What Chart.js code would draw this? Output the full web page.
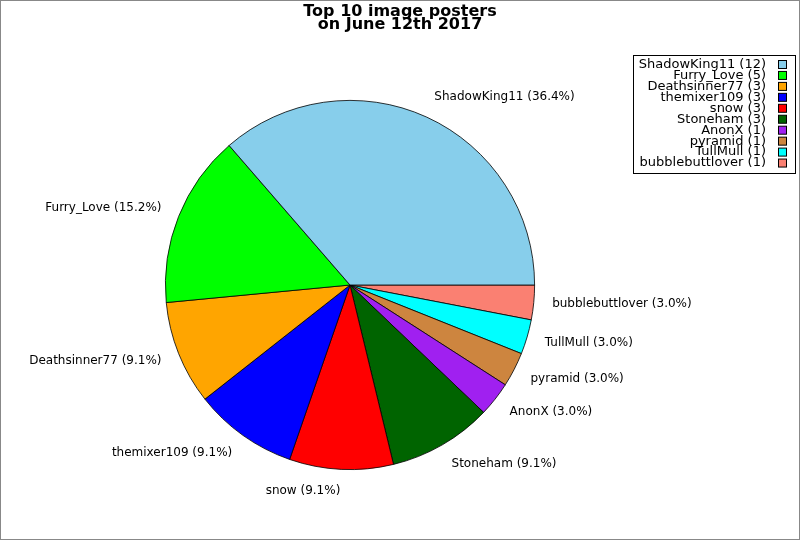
<!DOCTYPE html>
<html>
<head>
<meta charset="utf-8">
<script src="https://cdn.jsdelivr.net/npm/chart.js@4.4.0/dist/chart.umd.min.js"></script>
<style>
  html, body { margin: 0; padding: 0; background: #ffffff; }
  #wrap { width: 800px; height: 540px; }
</style>
</head>
<body>
<div id="wrap"><canvas id="grafico" width="800" height="540"></canvas></div>
<script>
// Datos del gráfico (orden de la leyenda)
const posters = ['ShadowKing11', 'Furry_Love', 'Deathsinner77', 'themixer109', 'snow',
  'Stoneham', 'AnonX', 'pyramid', 'TullMull', 'bubblebuttlover'];
const imageCounts = [12, 5, 3, 3, 3, 3, 1, 1, 1, 1];
const sliceColors = ['#87ceeb', '#00ff00', '#ffa500', '#0000ff', '#ff0000',
  '#006400', '#a020f0', '#cd853f', '#00ffff', '#fa8072'];
const titleLines = ['Top 10 image posters', 'on June 12th 2017'];

const total = imageCounts.reduce((a, b) => a + b, 0);

// Chart.js dibuja en sentido horario; invertimos para imitar el sentido antihorario
const labelsRev = posters.slice().reverse();
const valuesRev = imageCounts.slice().reverse();
const colorsRev = sliceColors.slice().reverse();

const FONT = '"DejaVu Sans", sans-serif';

const extrasPlugin = {
  id: 'extras',
  afterDraw(chart) {
    const ctx = chart.ctx;
    const meta = chart.getDatasetMeta(0);
    ctx.save();

    // Etiquetas fuera del pastel
    ctx.font = '12px ' + FONT;
    ctx.fillStyle = '#000000';
    ctx.textBaseline = 'middle';
    meta.data.forEach((arc, i) => {
      const mid = (arc.startAngle + arc.endAngle) / 2;
      const x = arc.x + arc.outerRadius * 1.1 * Math.cos(mid);
      const y = arc.y + arc.outerRadius * 1.12 * Math.sin(mid) - 0.5;
      ctx.textAlign = Math.cos(mid) > 0 ? 'left' : 'right';
      const pct = (valuesRev[i] / total * 100).toFixed(1);
      ctx.fillText(`${labelsRev[i]} (${pct}%)`, x, y);
    });

    // Título
    ctx.font = 'bold 16px ' + FONT;
    ctx.textAlign = 'center';
    ctx.textBaseline = 'alphabetic';
    ctx.fillText(titleLines[0], 400, 16);
    ctx.fillText(titleLines[1], 400, 29);

    // Leyenda
    const lx = 633, ly = 55, lw = 162, lh = 118;
    ctx.fillStyle = '#ffffff';
    ctx.fillRect(lx, ly, lw, lh);
    ctx.strokeStyle = '#000000';
    ctx.lineWidth = 1;
    ctx.strokeRect(lx + 0.5, ly + 0.5, lw, lh);
    ctx.font = '13px ' + FONT;
    ctx.textAlign = 'right';
    ctx.textBaseline = 'middle';
    posters.forEach((name, i) => {
      const y = 64 + i * 10.95;
      ctx.fillStyle = '#000000';
      ctx.fillText(`${name} (${imageCounts[i]})`, 766, y + 0.5);
      ctx.fillStyle = sliceColors[i];
      ctx.fillRect(778.5, y - 3.5, 8, 8);
      ctx.strokeRect(778.5, y - 3.5, 8, 8);
    });

    // Marco de la figura
    ctx.strokeStyle = '#888888';
    ctx.strokeRect(0.5, 0.5, 799, 539);
    ctx.restore();
  }
};

new Chart(document.getElementById('grafico').getContext('2d'), {
  type: 'pie',
  data: {
    labels: labelsRev,
    datasets: [{
      data: valuesRev,
      backgroundColor: colorsRev,
      borderColor: '#000000',
      borderWidth: 0.8
    }]
  },
  options: {
    responsive: false,
    animation: false,
    rotation: 90,
    layout: { padding: { top: 100, bottom: 70, left: 165, right: 265 } },
    plugins: {
      legend: { display: false },
      title: { display: false },
      tooltip: { enabled: false }
    }
  },
  plugins: [extrasPlugin]
});
</script>
</body>
</html>
